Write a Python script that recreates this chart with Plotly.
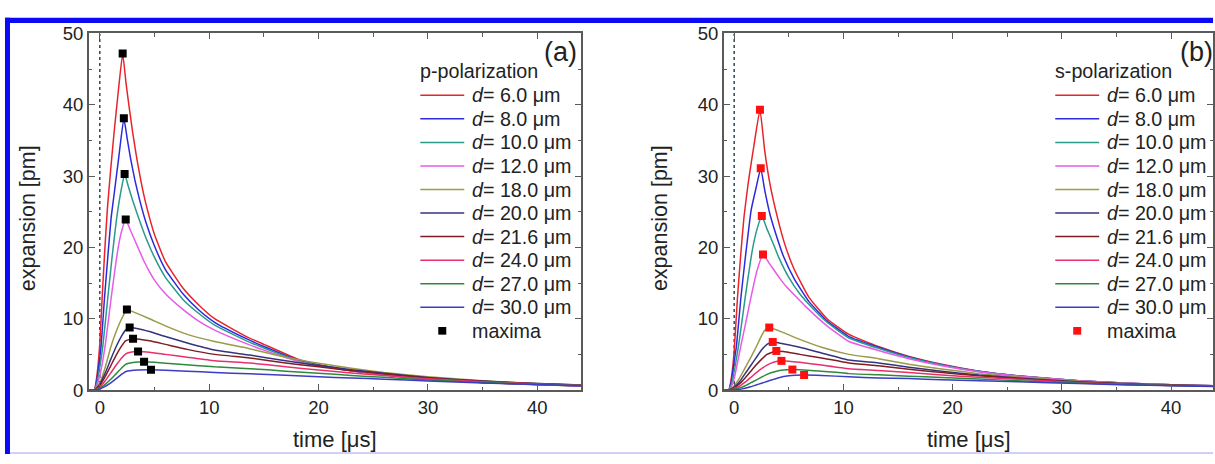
import plotly.graph_objects as go

W, H = 1215, 464

D_LABELS = ["6.0", "8.0", "10.0", "12.0", "18.0", "20.0", "21.6", "24.0", "27.0", "30.0"]
COLORS = ["#e8242a", "#2b2bdc", "#2a9a8a", "#e85ae8", "#9a9a48",
          "#34347e", "#7e1e22", "#e8306c", "#2e8a3a", "#3c3cc4"]

# ---------------- panel (a): p-polarization ----------------
PA_T_06 = [-1, -0.5, -0.25, 0, 0.2, 0.45, 0.7, 1.0, 1.3, 1.7, 2.09, 2.4, 2.7, 3.0, 3.4, 3.8, 4.2, 5.0, 6.0, 7.6, 9.0, 10.5, 13.4, 15, 18.3, 20, 23, 26, 30, 35, 40, 44]
PA_V_06 = [0, 0, 2.2, 6.5, 12.5, 19.5, 25.5, 31, 36, 42, 47.2, 43.0, 39.5, 36.2, 32.3, 29.0, 26.2, 21.8, 18.0, 14.3, 12.0, 10.0, 7.5, 6.4, 4.2, 3.55, 2.75, 2.15, 1.5, 1.05, 0.75, 0.58]
PA_T_08 = [-1, -0.5, -0.25, 0, 0.12, 0.43, 0.75, 1.04, 1.34, 1.74, 2.2, 2.5, 2.8, 3.2, 3.6, 4.2, 5.0, 6.0, 7.6, 9.0, 10.5, 13.4, 15, 18.3, 20, 23, 26, 30, 35, 40, 44]
PA_V_08 = [0, 0, 1.6, 4.5, 6.2, 12.9, 19.0, 24.2, 27.8, 32.7, 38.1, 35.3, 32.6, 29.5, 26.9, 23.6, 20.2, 16.9, 13.5, 11.3, 9.5, 7.2, 6.1, 4.1, 3.5, 2.72, 2.13, 1.5, 1.06, 0.76, 0.58]
PA_T_10 = [-1, -0.5, -0.25, 0, 0.28, 0.73, 1.1, 1.5, 1.9, 2.27, 2.6, 3.0, 3.4, 4.0, 4.5, 5.0, 6.0, 7.6, 9.0, 10.5, 13.4, 15, 18.3, 20, 23, 26, 30, 35, 40, 44]
PA_V_10 = [0, 0, 1.1, 3.2, 6.2, 12.9, 18.3, 23.6, 27.6, 30.3, 28.6, 26.6, 24.8, 22.2, 20.3, 18.6, 15.8, 12.7, 10.8, 9.1, 6.9, 5.9, 4.0, 3.45, 2.7, 2.13, 1.52, 1.07, 0.77, 0.59]
PA_T_12 = [-1, -0.5, -0.25, 0, 0.49, 1.04, 1.65, 2.0, 2.37, 2.8, 3.2, 3.63, 4.0, 4.54, 5.0, 6.0, 7.6, 9.0, 10.5, 13.4, 15, 18.3, 20, 23, 26, 30, 35, 40, 44]
PA_V_12 = [0, 0, 0.7, 2.0, 6.2, 12.9, 19.7, 22.3, 23.9, 22.4, 21.0, 19.5, 18.2, 16.6, 15.4, 13.5, 11.3, 9.7, 8.4, 6.5, 5.6, 3.95, 3.4, 2.72, 2.15, 1.55, 1.1, 0.8, 0.6]
PA_T_18 = [-1, -0.5, 0, 0.5, 1.0, 1.5, 2.0, 2.48, 3.0, 4.54, 6, 8, 10.5, 13.7, 17, 20, 23, 26, 30, 35, 40, 44]
PA_V_18 = [0, 0, 1.0, 3.2, 6.0, 8.2, 10.0, 11.3, 11.0, 10.0, 9.0, 7.8, 6.8, 5.8, 4.6, 3.75, 3.05, 2.45, 1.85, 1.3, 0.92, 0.7]
PA_T_20 = [-1, -0.5, 0, 0.5, 1.0, 1.5, 2.0, 2.35, 2.73, 3.5, 4.54, 6, 8, 10.5, 13.7, 17, 20, 23, 26, 30, 35, 40, 44]
PA_V_20 = [0, 0, 0.8, 2.4, 4.3, 6.1, 7.6, 8.4, 8.76, 8.6, 8.2, 7.5, 6.6, 5.6, 4.9, 4.1, 3.45, 2.85, 2.35, 1.75, 1.25, 0.9, 0.69]
PA_T_21 = [-1, -0.5, 0, 0.5, 1.0, 1.5, 2.0, 2.35, 3.04, 4.54, 6, 8, 10.5, 13.7, 17, 20, 23, 26, 30, 35, 40, 44]
PA_V_21 = [0, 0, 0.6, 1.9, 3.4, 4.9, 6.2, 6.9, 7.19, 6.9, 6.4, 5.7, 5.0, 4.5, 3.8, 3.25, 2.72, 2.25, 1.7, 1.22, 0.88, 0.68]
PA_T_24 = [-1, -0.5, 0, 0.5, 1.0, 1.5, 2.0, 2.35, 2.8, 3.5, 4.54, 6, 8, 10.5, 13.7, 17, 20, 23, 26, 30, 35, 40, 44]
PA_V_24 = [0, 0, 0.4, 1.3, 2.4, 3.5, 4.5, 5.05, 5.3, 5.39, 5.3, 5.0, 4.6, 4.1, 3.8, 3.25, 2.8, 2.4, 2.05, 1.58, 1.17, 0.86, 0.66]
PA_T_27 = [-1, -0.5, 0, 0.5, 1.0, 1.5, 2.0, 2.35, 3.2, 4.05, 5, 7, 10.5, 13.7, 17, 20, 23, 26, 30, 35, 40, 44]
PA_V_27 = [0, 0, 0.25, 0.8, 1.5, 2.3, 3.1, 3.6, 3.9, 3.95, 3.88, 3.65, 3.25, 3.0, 2.65, 2.35, 2.05, 1.78, 1.42, 1.07, 0.81, 0.63]
PA_T_30 = [-1, -0.5, 0, 0.5, 1.0, 1.5, 2.0, 2.4, 3.5, 4.68, 6, 8, 10.5, 13.7, 17, 20, 23, 26, 30, 35, 40, 44]
PA_V_30 = [0, 0, 0.15, 0.5, 1.0, 1.6, 2.2, 2.6, 2.8, 2.83, 2.78, 2.65, 2.45, 2.27, 2.07, 1.87, 1.68, 1.52, 1.27, 1.0, 0.77, 0.6]
PA_MAX_T = [2.09, 2.2, 2.27, 2.37, 2.48, 2.73, 3.04, 3.5, 4.05, 4.68]
PA_MAX_V = [47.2, 38.1, 30.3, 23.9, 11.3, 8.76, 7.19, 5.39, 3.95, 2.83]

# ---------------- panel (b): s-polarization ----------------
PB_T_06 = [-1, -0.5, -0.25, 0, 0.3, 0.6, 0.9, 1.3, 1.8, 2.36, 2.8, 3.3, 3.96, 4.6, 5.5, 6.85, 8.5, 10.5, 13.2, 16, 19, 22.4, 26, 31.5, 36, 40, 44]
PB_V_06 = [0, 0, 1.8, 5.5, 12.9, 19.0, 24.3, 29.2, 34.2, 39.3, 33.5, 28.7, 24.2, 20.6, 16.9, 13.0, 10.0, 7.8, 6.1, 4.7, 3.6, 2.65, 2.0, 1.3, 0.95, 0.75, 0.6]
PB_T_08 = [-1, -0.5, -0.25, 0, 0.21, 0.61, 1.0, 1.55, 2.0, 2.43, 2.8, 3.3, 4.0, 4.5, 5.5, 6.85, 8.5, 10.5, 13.2, 16, 19, 22.4, 26, 31.5, 36, 40, 44]
PB_V_08 = [0, 0, 1.3, 4.0, 6.2, 12.9, 18.3, 25.2, 28.3, 31.1, 28.0, 24.5, 21.0, 18.8, 15.6, 12.4, 9.7, 7.5, 6.0, 4.65, 3.55, 2.62, 1.98, 1.3, 0.95, 0.75, 0.6]
PB_T_10 = [-1, -0.5, -0.25, 0, 0.4, 1.0, 1.67, 2.1, 2.53, 3.0, 3.5, 4.11, 5.0, 6.0, 6.85, 8.5, 10.5, 13.2, 16, 19, 22.4, 26, 31.5, 36, 40, 44]
PB_V_10 = [0, 0, 0.8, 2.6, 6.2, 12.9, 19.7, 22.6, 24.4, 22.6, 20.8, 18.5, 15.8, 13.5, 12.0, 9.5, 7.3, 5.85, 4.55, 3.5, 2.6, 1.97, 1.3, 0.95, 0.75, 0.6]
PB_T_12 = [-1, -0.5, -0.25, 0, 0.61, 1.0, 1.52, 2.1, 2.64, 3.2, 4.11, 4.72, 5.78, 6.55, 8.5, 10.5, 13.2, 16, 19, 22.4, 26, 31.5, 36, 40, 44]
PB_V_12 = [0, 0, 0.5, 1.6, 6.2, 9.0, 12.9, 16.8, 19.0, 17.8, 15.8, 14.6, 12.9, 11.7, 9.0, 6.8, 5.55, 4.4, 3.4, 2.55, 1.95, 1.3, 0.95, 0.75, 0.6]
PB_T_18 = [-1, -0.5, 0, 0.5, 1.0, 1.5, 2.0, 2.5, 2.8, 3.21, 4.11, 6, 8, 10.5, 13.2, 16, 19, 22.4, 26, 31.5, 36, 40, 44]
PB_V_18 = [0, 0, 0.6, 1.7, 3.1, 4.5, 6.0, 7.6, 8.4, 8.76, 8.3, 7.1, 6.0, 5.0, 4.4, 3.6, 2.95, 2.3, 1.8, 1.22, 0.92, 0.72, 0.58]
PB_T_20 = [-1, -0.5, 0, 0.5, 1.0, 1.5, 2.0, 2.5, 3.0, 3.53, 4.11, 6, 8, 10.5, 13.2, 16, 19, 22.4, 26, 31.5, 36, 40, 44]
PB_V_20 = [0, 0, 0.4, 1.2, 2.3, 3.4, 4.5, 5.6, 6.4, 6.74, 6.6, 6.0, 5.2, 4.2, 3.8, 3.2, 2.65, 2.1, 1.68, 1.15, 0.88, 0.69, 0.56]
PB_T_21 = [-1, -0.5, 0, 0.5, 1.0, 1.5, 2.0, 2.5, 3.0, 3.86, 4.5, 6, 8, 10.5, 13.2, 16, 19, 22.4, 26, 31.5, 36, 40, 44]
PB_V_21 = [0, 0, 0.3, 0.9, 1.7, 2.6, 3.5, 4.3, 5.0, 5.48, 5.4, 5.0, 4.5, 3.8, 3.4, 2.9, 2.45, 2.0, 1.6, 1.1, 0.85, 0.67, 0.55]
PB_T_24 = [-1, -0.5, 0, 0.5, 1.0, 1.5, 2.0, 2.5, 3.0, 3.6, 4.33, 5, 6, 8, 10.5, 13.2, 16, 19, 22.4, 26, 31.5, 36, 40, 44]
PB_V_24 = [0, 0, 0.2, 0.55, 1.1, 1.75, 2.4, 3.0, 3.5, 3.9, 4.09, 4.05, 3.9, 3.5, 3.0, 2.75, 2.45, 2.1, 1.8, 1.5, 1.05, 0.82, 0.65, 0.53]
PB_T_27 = [-1, -0.5, 0, 0.5, 1.0, 1.5, 2.0, 2.5, 3.0, 3.8, 4.5, 5.33, 6, 8, 10.5, 13.2, 16, 19, 22.4, 26, 31.5, 36, 40, 44]
PB_V_27 = [0, 0, 0.1, 0.3, 0.6, 1.0, 1.4, 1.8, 2.2, 2.6, 2.8, 2.87, 2.85, 2.65, 2.3, 2.15, 1.95, 1.75, 1.55, 1.3, 0.98, 0.78, 0.63, 0.52]
PB_T_30 = [-1, -0.5, 0, 0.5, 1.0, 1.5, 2.0, 2.5, 3.0, 3.5, 4.0, 5.0, 6.4, 8, 10.5, 13.2, 16, 19, 22.4, 26, 31.5, 36, 40, 44]
PB_V_30 = [0, 0, 0.03, 0.1, 0.25, 0.45, 0.7, 0.95, 1.2, 1.45, 1.7, 2.0, 2.11, 2.05, 1.85, 1.7, 1.6, 1.45, 1.3, 1.15, 0.9, 0.72, 0.6, 0.5]
PB_MAX_T = [2.36, 2.43, 2.53, 2.64, 3.21, 3.53, 3.86, 4.33, 5.33, 6.4]
PB_MAX_V = [39.3, 31.1, 24.4, 19.0, 8.76, 6.74, 5.48, 4.09, 2.87, 2.11]

X_TICKS = [0, 10, 20, 30, 40]
Y_TICKS = [0, 10, 20, 30, 40, 50]

PA_T = [PA_T_06, PA_T_08, PA_T_10, PA_T_12, PA_T_18, PA_T_20, PA_T_21, PA_T_24, PA_T_27, PA_T_30]
PA_V = [PA_V_06, PA_V_08, PA_V_10, PA_V_12, PA_V_18, PA_V_20, PA_V_21, PA_V_24, PA_V_27, PA_V_30]
PB_T = [PB_T_06, PB_T_08, PB_T_10, PB_T_12, PB_T_18, PB_T_20, PB_T_21, PB_T_24, PB_T_27, PB_T_30]
PB_V = [PB_V_06, PB_V_08, PB_V_10, PB_V_12, PB_V_18, PB_V_20, PB_V_21, PB_V_24, PB_V_27, PB_V_30]

FONT = "Liberation Sans, Arial, sans-serif"
TXT = "#222222"
AX = "#5a5a5a"


def px(xp):
    return xp / W


def py(yp):
    return 1 - yp / H


fig = go.Figure()

for ts, vs, col, lab in zip(PA_T, PA_V, COLORS, D_LABELS):
    fig.add_trace(go.Scatter(x=ts, y=vs, mode="lines", name="d = " + lab + " μm",
                             line=dict(color=col, width=1.5, shape="spline", smoothing=0.4),
                             xaxis="x", yaxis="y", showlegend=False))
fig.add_trace(go.Scatter(x=PA_MAX_T, y=PA_MAX_V, mode="markers", name="maxima",
                         marker=dict(symbol="square", size=8, color="#000000"),
                         xaxis="x", yaxis="y", showlegend=False))

for ts, vs, col, lab in zip(PB_T, PB_V, COLORS, D_LABELS):
    fig.add_trace(go.Scatter(x=ts, y=vs, mode="lines", name="d = " + lab + " μm",
                             line=dict(color=col, width=1.5, shape="spline", smoothing=0.4),
                             xaxis="x2", yaxis="y2", showlegend=False))
fig.add_trace(go.Scatter(x=PB_MAX_T, y=PB_MAX_V, mode="markers", name="maxima",
                         marker=dict(symbol="square", size=8, color="#ff1010"),
                         xaxis="x2", yaxis="y2", showlegend=False))

ydom = [py(397), py(23.5)]
common_x = dict(showline=True, linecolor=AX, linewidth=1.5, mirror="ticks",
                ticks="inside", ticklen=6, tickwidth=1.3, tickcolor=AX,
                tickvals=X_TICKS, showgrid=False, zeroline=False,
                tickfont=dict(family=FONT, size=18.5, color=TXT),
                minor=dict(ticks="inside", dtick=5, tick0=0, ticklen=3.5, tickcolor=AX, showgrid=False))
common_y = dict(showline=True, linecolor=AX, linewidth=1.5, mirror="ticks",
                ticks="inside", ticklen=6, tickwidth=1.3, tickcolor=AX,
                tickvals=Y_TICKS, showgrid=False, zeroline=False,
                tickfont=dict(family=FONT, size=18.5, color=TXT),
                minor=dict(ticks="inside", dtick=5, tick0=0, ticklen=3.5, tickcolor=AX, showgrid=False))

shapes = []
annotations = []

# dotted t=0 lines
for xr, yr in (("x", "y"), ("x2", "y2")):
    shapes.append(dict(type="line", xref=xr, yref=yr, x0=0, x1=0, y0=0, y1=50, layer="below",
                       line=dict(color="#2f4a58", width=1.5, dash="dot")))

# legends (drawn as shapes + texts so that spacing matches)
ROW0, ROWSTEP = 88.3, 24.67
LEG_FONT = 19.7
for (title, lx0, lx1, tx, mcol) in (("p-polarization", 421, 465, 471, "#000000"),
                                     ("s-polarization", 1057, 1101, 1107, "#ff1010")):
    annotations.append(dict(xref="paper", yref="paper", x=px(lx0 - 2), y=py(63), text=title,
                            xanchor="left", yanchor="middle", showarrow=False,
                            font=dict(family=FONT, size=LEG_FONT, color=TXT)))
    for i, (col, lab) in enumerate(zip(COLORS, D_LABELS)):
        yy = ROW0 + i * ROWSTEP
        shapes.append(dict(type="line", xref="paper", yref="paper", x0=px(lx0), x1=px(lx1),
                           y0=py(yy), y1=py(yy), line=dict(color=col, width=1.5)))
        annotations.append(dict(xref="paper", yref="paper", x=px(tx), y=py(yy),
                                text="<i>d</i>= " + lab + " μm", xanchor="left", yanchor="middle",
                                showarrow=False, font=dict(family=FONT, size=LEG_FONT, color=TXT)))
    yy = ROW0 + 10 * ROWSTEP
    cx = (lx0 + lx1) / 2
    shapes.append(dict(type="rect", xref="paper", yref="paper", x0=px(cx - 4), x1=px(cx + 4),
                       y0=py(yy + 4), y1=py(yy - 4), fillcolor=mcol, line=dict(width=0)))
    annotations.append(dict(xref="paper", yref="paper", x=px(tx), y=py(yy), text="maxima",
                            xanchor="left", yanchor="middle", showarrow=False,
                            font=dict(family=FONT, size=LEG_FONT, color=TXT)))

# panel labels
annotations.append(dict(xref="paper", yref="paper", x=px(561.5), y=py(43), text="(a)",
                        xanchor="center", yanchor="middle", showarrow=False,
                        font=dict(family=FONT, size=27, color=TXT)))
annotations.append(dict(xref="paper", yref="paper", x=px(1198.5), y=py(43), text="(b)",
                        xanchor="center", yanchor="middle", showarrow=False,
                        font=dict(family=FONT, size=27, color=TXT)))

# axis titles
for xc, yc in ((335.5, 449), (971, 449)):
    annotations.append(dict(xref="paper", yref="paper", x=px(xc), y=py(yc), text="time [μs]",
                            xanchor="center", yanchor="middle", showarrow=False,
                            font=dict(family=FONT, size=22, color=TXT)))
for xc in (28, 661):
    annotations.append(dict(xref="paper", yref="paper", x=px(xc), y=py(217), text="expansion [pm]",
                            xanchor="center", yanchor="middle", showarrow=False, textangle=-90,
                            font=dict(family=FONT, size=21.5, color=TXT)))

# blue frame of the page
BLUE = "#0a0af5"
shapes.append(dict(type="rect", xref="paper", yref="paper", x0=px(5), x1=1.0, y0=py(12.5), y1=py(7),
                   fillcolor=BLUE, line=dict(width=0), layer="above"))
shapes.append(dict(type="rect", xref="paper", yref="paper", x0=px(5), x1=px(10), y0=0, y1=py(7),
                   fillcolor=BLUE, line=dict(width=0), layer="above"))
shapes.append(dict(type="rect", xref="paper", yref="paper", x0=px(10), x1=1.0, y0=0, y1=py(462),
                   fillcolor="#cfcff8", line=dict(width=0), layer="above"))

fig.update_layout(
    width=W, height=H,
    margin=dict(l=0, r=0, t=0, b=0),
    paper_bgcolor="white", plot_bgcolor="white",
    showlegend=False,
    xaxis=dict(domain=[px(89), px(582)], range=[-1, 44], anchor="y", **common_x),
    yaxis=dict(domain=ydom, range=[0, 50], anchor="x", **common_y),
    xaxis2=dict(domain=[px(725), 1.0], range=[-0.95, 43.84], anchor="y2", **common_x),
    yaxis2=dict(domain=ydom, range=[0, 50], anchor="x2", **common_y),
    shapes=shapes,
    annotations=annotations,
)

JS = """
var gd = document.getElementById('{plot_id}');
document.documentElement.style.margin='0';
document.documentElement.style.overflow='hidden';
document.body.style.margin='0';
document.body.style.padding='0';
document.body.style.overflow='hidden';
gd.style.position='fixed'; gd.style.top='0px'; gd.style.left='0px';
"""

fig.write_html("out.html", config={"displayModeBar": False}, post_script=JS)
